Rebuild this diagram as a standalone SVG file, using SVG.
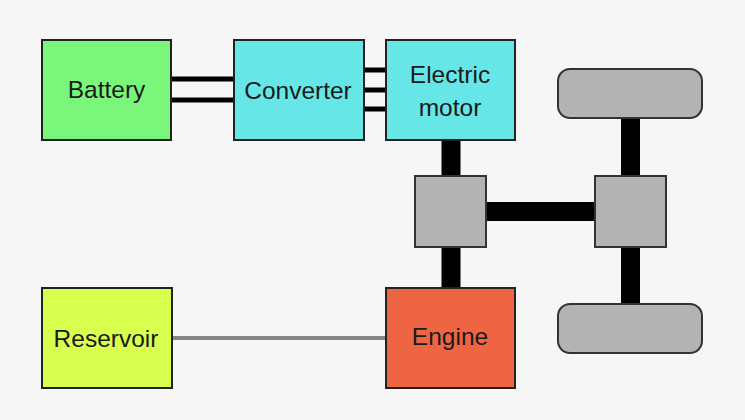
<svg xmlns="http://www.w3.org/2000/svg" width="745" height="420" viewBox="0 0 745 420">
<style>
.box{stroke:#222;stroke-width:2}
.gray{fill:#b3b3b3;stroke:#333;stroke-width:2}
.t{font-family:"Liberation Sans",Arial,sans-serif;font-size:24.5px;fill:#1a1a1a;text-anchor:middle;dominant-baseline:central}
.wire{stroke:#000;stroke-width:5}
.shaft{stroke:#000;stroke-width:19}
</style>
<rect width="745" height="420" fill="#f6f6f6"/>
<g id="connectors">
<line class="wire" x1="171" y1="79" x2="234" y2="79"/>
<line class="wire" x1="171" y1="100" x2="234" y2="100"/>
<line class="wire" x1="364" y1="70" x2="386" y2="70"/>
<line class="wire" x1="364" y1="90" x2="386" y2="90"/>
<line class="wire" x1="364" y1="109" x2="386" y2="109"/>
<line class="shaft" x1="451" y1="140" x2="451" y2="176"/>
<line class="shaft" x1="451" y1="247" x2="451" y2="288"/>
<line class="shaft" x1="486" y1="211.5" x2="595" y2="211.5"/>
<line class="shaft" x1="630.5" y1="118" x2="630.5" y2="176"/>
<line class="shaft" x1="630.5" y1="247" x2="630.5" y2="304"/>
<line x1="172" y1="338" x2="386" y2="338" stroke="#858585" stroke-width="4"/>
</g>
<g id="battery"><rect class="box" x="42" y="40" width="129" height="100" fill="#7af77a"/><text class="t" x="106.5" y="89">Battery</text></g>
<g id="converter"><rect class="box" x="234" y="40" width="130" height="100" fill="#66e6e6"/><text class="t" x="298" y="90">Converter</text></g>
<g id="motor"><rect class="box" x="386" y="40" width="129" height="100" fill="#66e6e6"/><text class="t" x="450" y="74">Electric</text><text class="t" x="450" y="107">motor</text></g>
<g id="gear-left"><rect class="gray" x="415" y="176" width="71" height="71"/></g>
<g id="gear-right"><rect class="gray" x="595" y="176" width="71" height="71"/></g>
<g id="wheel-top"><rect class="gray" x="558" y="69" width="144" height="49" rx="12"/></g>
<g id="wheel-bottom"><rect class="gray" x="558" y="304" width="144" height="49" rx="12"/></g>
<g id="reservoir"><rect class="box" x="42" y="288" width="130" height="100" fill="#d8ff4d"/><text class="t" x="106" y="338">Reservoir</text></g>
<g id="engine"><rect class="box" x="386" y="288" width="129" height="100" fill="#ee6543"/><text class="t" x="450" y="336">Engine</text></g>
</svg>
